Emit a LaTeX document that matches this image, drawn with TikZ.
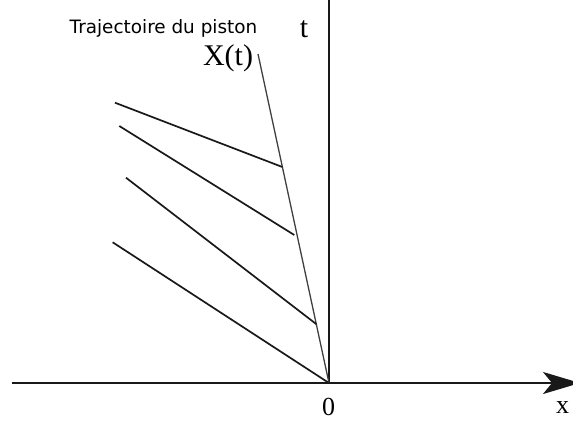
\documentclass[tikz,border=0pt]{standalone}
\usepackage{fontspec}
\setmainfont{Liberation Serif}
\newfontfamily\legendfont{DejaVu Sans}
\usetikzlibrary{arrows.meta,calc}
\tikzset{axis/.style={line width=2pt,draw=black!90},
 piston/.style={line width=1.3pt,draw=black!75},
 charac/.style={line width=1.7pt,draw=black!90},
 axlabel/.style={font=\fontsize{30}{34}\selectfont,inner sep=0pt,anchor=base},
 numlabel/.style={font=\fontsize{26}{30}\selectfont,inner sep=0pt,anchor=base},
 legend/.style={font=\legendfont\fontsize{18.4}{22}\selectfont,inner sep=0pt,anchor=base}}

\begin{document}
\begin{tikzpicture}[x=1pt,y=-1pt]

\path[use as bounding box] (0,0) rectangle (573,421);
\coordinate (o) at (329,383);
\coordinate (xl) at (12,383);
\coordinate (xr) at (580,383);
\coordinate (tt) at (329,0);
\coordinate (p) at (258,54);
% axes
\draw[axis] (xl)--(o)--(tt);
\draw[axis,-{Stealth[length=37pt,width=22pt,inset=9pt]}] (o)--(xr);
% trajectoire du piston
\draw[piston] (o)--(p);
% caracteristiques
\coordinate (a1) at (115,102.7);
\coordinate (b1) at ($(o)!0.6565!(p)$);
\coordinate (a2) at (119.3,126);
\coordinate (b2) at (294.3,235);
\coordinate (a3) at (126,177.7);
\coordinate (b3) at ($(o)!0.179!(p)$);
\coordinate (a4) at (112.7,242.3);
\draw[charac] (a1)--(b1);
\draw[charac] (a2)--(b2);
\draw[charac] (a3)--(b3);
\draw[charac] (a4)--(o);
% textes
\node[legend] (leg) at (163.5,33) {Trajectoire du piston};
\node[axlabel] (tl) at (304,37) {t};
\node[axlabel] (xt) at (228,65) {X(t)};
\node[numlabel] (zero) at (328.5,415) {0};
\node[numlabel,anchor=base west] (xlab) at (556,413) {x};

\end{tikzpicture}
\end{document}
